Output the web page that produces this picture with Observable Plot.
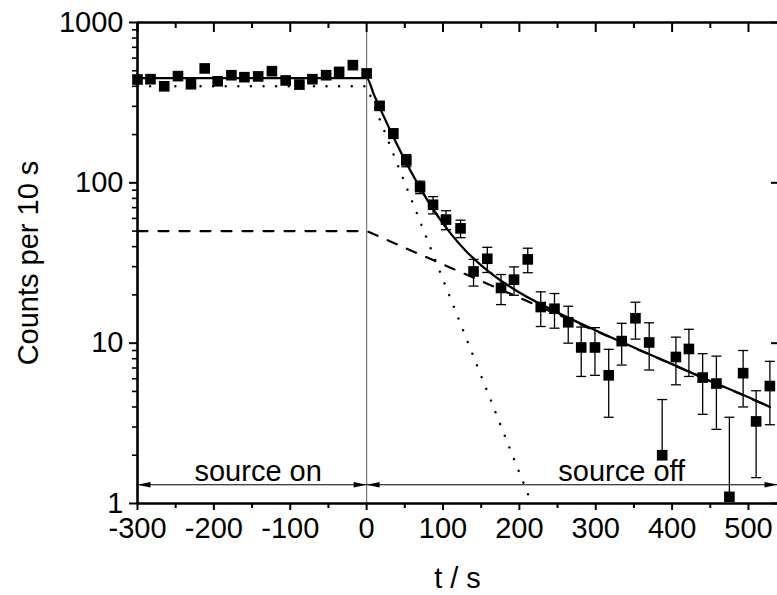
<!DOCTYPE html>
<html><head><meta charset="utf-8">
<script src="https://cdn.jsdelivr.net/npm/d3@7"></script>
<script src="https://cdn.jsdelivr.net/npm/@observablehq/plot@0.6"></script>
<style>html,body{margin:0;padding:0;background:#fff;}</style>
</head><body><div id="chart"></div>
<script>
// ---- data ----
const preT = [-300, -283, -265, -247, -230, -212, -195, -177, -160, -142, -124, -106, -88, -71, -53, -36, -18, 0];
const preV = [441, 443, 400, 463, 412, 517, 430, 469, 456, 461, 497, 435, 410, 443, 469, 492, 542, 481];

const postT = [17, 35, 52, 70, 87, 104, 123, 140, 158, 176, 193, 211, 228, 246, 264, 281, 299, 317, 334, 352, 370, 387, 405, 422, 440, 458, 475, 493, 510, 528];
const postV = [302, 203, 138, 94, 73, 59, 52, 28, 33.6, 22.1, 24.9, 33.3, 16.8, 16.4, 13.5, 9.4, 9.4, 6.3, 10.3, 14.3, 10.1, 2.0, 8.2, 9.2, 6.1, 5.6, 1.1, 6.5, 3.25, 5.4];
const postErr = [17, 14, 12, 8.4, 9, 8, 6.5, 5.3, 6, 4.7, 5, 5.8, 4.1, 4, 3.5, 3.2, 3.1, 2.85, 3.0, 3.7, 3.3, 2.45, 2.7, 3.0, 2.5, 2.7, 2.35, 2.5, 1.8, 2.3];

// total fit (solid), fast component (dotted), slow component (dashed)
const fitT = [-300, 0, 10, 20, 30, 40, 50, 60, 70, 80, 90, 100, 115, 130, 150, 175, 200, 250, 300, 350, 400, 450, 500, 528];
const fitV = [450, 450, 351, 275, 217, 173, 139, 113, 93, 77.5, 65.3, 55.9, 45.2, 37.6, 30.6, 24.7, 20.7, 15.5, 12.0, 9.4, 7.4, 5.8, 4.6, 4.0];
const fastT = [-300, 0, 216];
const fastV = [400, 400, 1];
const slowT = [-300, 0, 528];
const slowV = [50, 50, 4.0];

const xMajor = [-300, -200, -100, 0, 100, 200, 300, 400, 500];
const xMinor = [-250, -150, -50, 50, 150, 250, 350, 450];
const yMajor = [1, 10, 100, 1000];
const yMinor = [2, 3, 4, 5, 6, 7, 8, 9, 20, 30, 40, 50, 60, 70, 80, 90, 200, 300, 400, 500, 600, 700, 800, 900];

const phaseLabels = ["source on", "source off"];
const phaseFrom = [-300, 0];
const phaseTo = [0, 538];
const phaseLabelAt = [-142, 334];
const arrowLevel = 1.31;

const xDomain = [-300, 538];
const yDomain = [1, 1000];
const xTitle = "t / s";
const yTitle = "Counts per 10 s";

// ---- derived tables ----
const pre = preT.map((t, i) => ({t, v: preV[i]}));
const post = postT.map((t, i) => ({t, v: postV[i], hi: postV[i] + postErr[i], lo: postV[i] - postErr[i]}));
const points = pre.concat(post);
const fit = fitT.map((t, i) => ({t, v: fitV[i]}));
const fast = fastT.map((t, i) => ({t, v: fastV[i]}));
const slow = slowT.map((t, i) => ({t, v: slowV[i]}));
const phases = phaseLabels.map((label, i) => ({label, from: phaseFrom[i], to: phaseTo[i], at: phaseLabelAt[i]}));
const headsL = phases.map(p => ({t: p.from}));
const headsR = phases.map(p => ({t: p.to}));

const capSym = {draw(ctx) { ctx.moveTo(-5, 0); ctx.lineTo(5, 0); }};
const headRight = {draw(ctx) { ctx.moveTo(0, 0); ctx.lineTo(-13, -2.8); ctx.lineTo(-13, 2.8); ctx.closePath(); }};
const headLeft = {draw(ctx) { ctx.moveTo(0, 0); ctx.lineTo(13, -2.8); ctx.lineTo(13, 2.8); ctx.closePath(); }};

const FS = 29;
const chart = Plot.plot({
  width: 777, height: 595,
  marginLeft: 137, marginRight: 0, marginTop: 22, marginBottom: 92,
  style: {fontFamily: "'Liberation Sans', Arial, sans-serif", fontSize: FS + "px", color: "black", background: "white"},
  x: {domain: xDomain, axis: null},
  y: {type: "log", domain: yDomain, axis: null},
  marks: [
    // component & fit lines
    Plot.line(slow, {x: "t", y: "v", stroke: "black", strokeWidth: 2.2, strokeDasharray: "10,11"}),
    Plot.line(fast, {x: "t", y: "v", stroke: "black", strokeWidth: 2.4, strokeDasharray: "0.1,12.5", strokeLinecap: "round"}),
    Plot.line(fit, {x: "t", y: "v", stroke: "black", strokeWidth: 2.3, curve: "monotone-x"}),
    // zero line
    Plot.ruleX([0], {stroke: "#777", strokeWidth: 1.2}),
    // phase arrows
    Plot.ruleY(phases, {y: arrowLevel, x1: "from", x2: "to", stroke: "black", strokeWidth: 1.1}),
    Plot.dot(headsL, {x: "t", y: arrowLevel, symbol: headLeft, fill: "black", stroke: "none", r: 3}),
    Plot.dot(headsR, {x: "t", y: arrowLevel, symbol: headRight, fill: "black", stroke: "none", r: 3}),
    Plot.text(phases, {x: "at", y: arrowLevel, text: "label", dy: -4, lineAnchor: "bottom", fontSize: FS, fill: "black"}),
    // error bars
    Plot.ruleX(post, {x: "t", y1: "v", y2: "hi", stroke: "black", strokeWidth: 1.3}),
    Plot.ruleX(post.filter(d => d.lo > 0), {x: "t", y1: "lo", y2: "v", stroke: "black", strokeWidth: 1.3}),
    Plot.dot(post, {x: "t", y: "hi", symbol: capSym, fill: "none", stroke: "black", strokeWidth: 1.3, r: 3}),
    Plot.dot(post.filter(d => d.lo > 0), {x: "t", y: "lo", symbol: capSym, fill: "none", stroke: "black", strokeWidth: 1.3, r: 3}),
    // data squares
    Plot.dot(points, {x: "t", y: "v", symbol: "square", r: 6, fill: "black", stroke: "none"}),
    // frame
    Plot.ruleY([yDomain[0]], {stroke: "black", strokeWidth: 2.6}),
    Plot.ruleY([yDomain[1]], {stroke: "black", strokeWidth: 2.6}),
    Plot.ruleX([xDomain[0]], {stroke: "black", strokeWidth: 2.6}),
    // axes
    Plot.axisX({anchor: "bottom", ticks: xMajor, tickSize: 7, tickPadding: 7, strokeWidth: 2, tickFormat: d => String(d), fontSize: FS, label: null}),
    Plot.axisX({anchor: "bottom", ticks: xMinor, tickSize: 5, strokeWidth: 2, tickFormat: () => "", label: null}),
    Plot.axisX({anchor: "top", ticks: xMajor, tickSize: -9, strokeWidth: 2, tickFormat: () => "", label: null}),
    Plot.axisX({anchor: "top", ticks: xMinor, tickSize: -5, strokeWidth: 2, tickFormat: () => "", label: null}),
    Plot.axisY({anchor: "left", ticks: yMajor, tickSize: 8, tickPadding: 6, strokeWidth: 2, tickFormat: d => String(d), fontSize: FS, label: null}),
    Plot.axisY({anchor: "left", ticks: yMinor, tickSize: 5, strokeWidth: 1.6, tickFormat: () => "", label: null}),
    Plot.axisY({anchor: "right", ticks: yMajor, tickSize: -7, strokeWidth: 2, tickFormat: () => "", label: null}),
    // titles
    Plot.text([xTitle], {frameAnchor: "bottom", dy: 75, text: d => d, textAnchor: "middle", lineAnchor: "middle", fontSize: FS, fill: "black"}),
    Plot.text([yTitle], {frameAnchor: "left", dx: -109, rotate: -90, text: d => d, textAnchor: "middle", lineAnchor: "middle", fontSize: FS, fill: "black"})
  ]
});
document.getElementById("chart").appendChild(chart);
</script>
</body></html>
